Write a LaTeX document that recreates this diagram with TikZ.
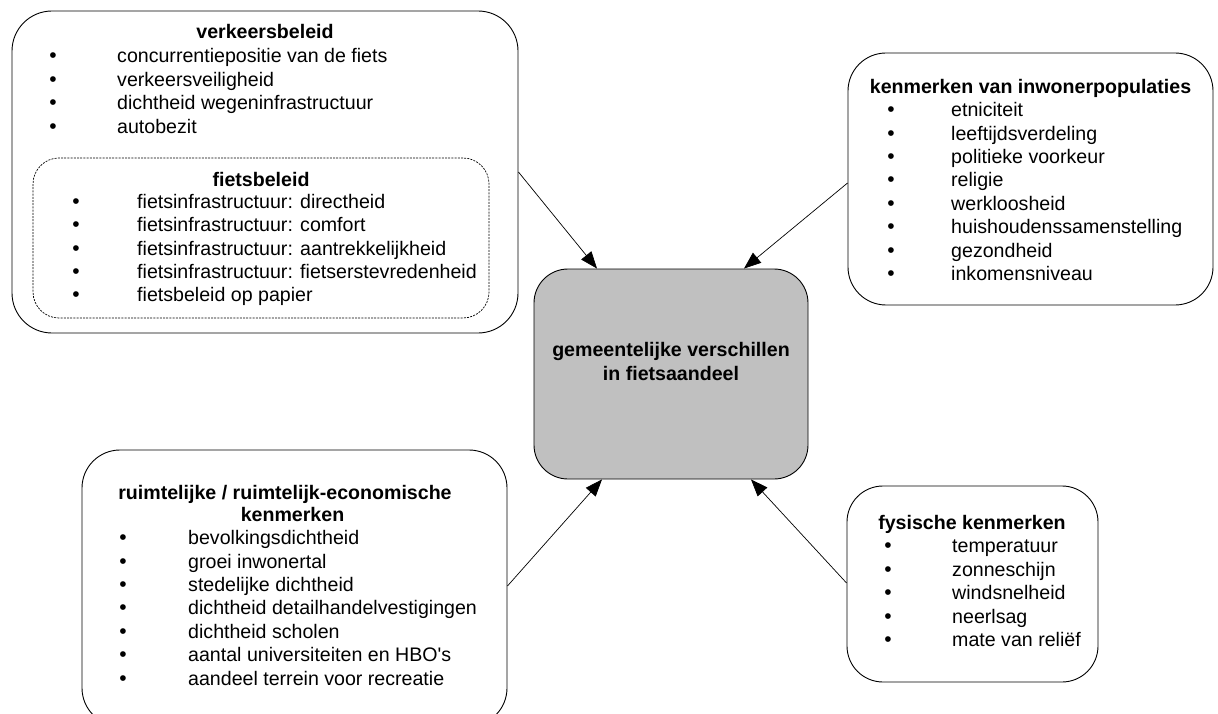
\documentclass[tikz,border=0pt]{standalone}
\usepackage{fontspec}
\setmainfont{Liberation Sans}[Ligatures=TeXOff]
\usetikzlibrary{arrows.meta,calc}
\definecolor{cgray}{RGB}{192,192,192}
\begin{document}
\begin{tikzpicture}[x=1pt,y=-1pt,
  box/.style={draw, line width=0.9pt, rounded corners=#1, inner sep=0pt},
  box/.default=38pt,
  dbox/.style={draw, line width=0.7pt, dash pattern=on 2pt off 1.2pt, rounded corners=26pt, inner sep=0pt},
  cbox/.style={draw, line width=0.9pt, fill=cgray, rounded corners=34pt, inner sep=0pt},
  txt/.style={font=\fontsize{19.6}{23.4}\selectfont, inner sep=0pt, anchor=base west},
  ttl/.style={font=\fontsize{19.6}{23.4}\selectfont\bfseries, inner sep=0pt, anchor=base},
  bul/.style={font=\fontsize{21}{23.4}\selectfont, inner sep=0pt, anchor=base},
  arr/.style={-{Triangle[length=17pt,width=13pt]}, line width=0.7pt}
]
\useasboundingbox (0,0) rectangle (1218,714);
\begin{scope}
\clip (0,0) rectangle (1218,714);
% boxes
\node[box=40pt, minimum width=506pt, minimum height=322pt] (b1) at (265,172) {};
\node[dbox, minimum width=456pt, minimum height=160pt] (b1f) at (261,238) {};
\node[box=38pt, minimum width=365pt, minimum height=252pt] (b2) at (1030.5,179) {};
\node[cbox, minimum width=274pt, minimum height=210pt] (c) at (671,374) {};
\node[box=38pt, minimum width=425pt, minimum height=276pt] (b4) at (294.5,588) {};
\node[box=36pt, minimum width=251pt, minimum height=196pt] (b5) at (972.5,584) {};

% verkeersbeleid
\node[ttl] (t1) at (265,38.5) {verkeersbeleid};
\foreach \s [count=\i] in {concurrentiepositie van de fiets, verkeersveiligheid, dichtheid wegeninfrastructuur, autobezit}{
  \node[bul] (vb\i) at (53,{63+23.5*(\i-1)}) {\textbullet};
  \node[txt] (v\i) at (117,{63+23.5*(\i-1)}) {\s};
}
% fietsbeleid
\node[ttl] (t1f) at (261,186.5) {fietsbeleid};
\foreach \s [count=\i] in {fietsinfrastructuur: directheid, fietsinfrastructuur: comfort, fietsinfrastructuur: aantrekkelijkheid, fietsinfrastructuur: fietserstevredenheid, fietsbeleid op papier}{
  \node[bul] (fb\i) at (76,{208.2+23.4*(\i-1)}) {\textbullet};
  \node[txt] (f\i) at (137,{208.2+23.4*(\i-1)}) {\s};
}
% inwonerpopulaties
\node[ttl] (t2) at (1030.5,93.3) {kenmerken van inwonerpopulaties};
\foreach \s [count=\i] in {etniciteit, leeftijdsverdeling, politieke voorkeur, religie, werkloosheid, huishoudenssamenstelling, gezondheid, inkomensniveau}{
  \node[bul] (pb\i) at (891,{116.7+23.4*(\i-1)}) {\textbullet};
  \node[txt] (p\i) at (951,{116.7+23.4*(\i-1)}) {\s};
}
% centre
\node[ttl] (c1) at (671,356.7) {gemeentelijke verschillen};
\node[ttl] (c2) at (671,380) {in fietsaandeel};
% ruimtelijk
\node[ttl] (t4a) at (285,499) {ruimtelijke / ruimtelijk-economische};
\node[ttl] (t4b) at (292.5,521.3) {kenmerken};
\foreach \s [count=\i] in {bevolkingsdichtheid, groei inwonertal, stedelijke dichtheid, dichtheid detailhandelvestigingen, dichtheid scholen, aantal universiteiten en HBO's, aandeel terrein voor recreatie}{
  \node[bul] (rb\i) at (123,{544.7+23.4*(\i-1)}) {\textbullet};
  \node[txt] (r\i) at (188,{544.7+23.4*(\i-1)}) {\s};
}
% fysisch
\node[ttl] (t5) at (972,529.5) {fysische kenmerken};
\foreach \s [count=\i] in {temperatuur, zonneschijn, windsnelheid, neerlsag, mate van reliëf}{
  \node[bul] (yb\i) at (888,{552.8+23.4*(\i-1)}) {\textbullet};
  \node[txt] (y\i) at (952,{552.8+23.4*(\i-1)}) {\s};
}
\end{scope}
% connectors
\draw[arr] (b1.east) -- ([xshift=-74pt]c.north);
\draw[arr] ([yshift=-4pt]b2.west) -- ([xshift=73pt]c.north);
\draw[arr] ([yshift=2pt]b4.east) -- ([xshift=-69pt]c.south);
\draw[arr] ([yshift=1pt]b5.west) -- ([xshift=80pt]c.south);
\end{tikzpicture}
\end{document}
